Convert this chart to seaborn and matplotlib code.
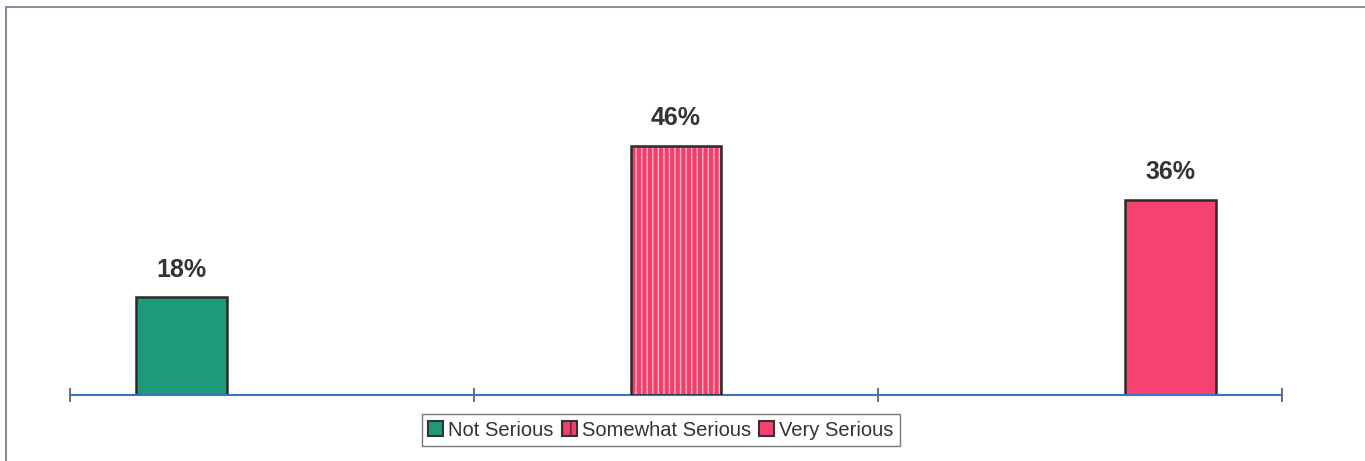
import matplotlib
matplotlib.use('Agg')
import matplotlib.pyplot as plt
import matplotlib.patches as mpatches
from matplotlib.lines import Line2D
import seaborn as sns
import pandas as pd

categories = ['g1', 'g2', 'g3']
series = ['Not Serious', 'Somewhat Serious', 'Very Serious']
values = [18, 46, 36]
labels = ['18%', '46%', '36%']
colors = ['#1f9a78', '#f23f6c', '#f5426e']

sns.set_theme(style='white')
plt.rcParams['font.family'] = ['Liberation Sans', 'DejaVu Sans']

df = pd.DataFrame({'cat': categories, 'series': series, 'value': values})

fig = plt.figure(figsize=(13.65, 4.61), dpi=100)
ax = fig.add_axes([70 / 1365, 66 / 461, 1212 / 1365, 298 / 461])

sns.barplot(data=df, x='cat', y='value', hue='series', hue_order=series,
            order=categories, palette=colors, width=0.675, dodge=True,
            edgecolor='#2b2b2b', linewidth=1.8, saturation=1, ax=ax,
            legend=False)

bars = [p for p in ax.patches if p.get_height() > 0]
bars.sort(key=lambda p: p.get_x())
# striped bar for "Somewhat Serious"
mid = bars[1]
mid.set_hatch('|||')
mid.set_edgecolor('#ffb3c6')
mid.set_linewidth(0)
ax.add_patch(mpatches.Rectangle(mid.get_xy(), mid.get_width(), mid.get_height(),
                                fill=False, edgecolor='#2b2b2b', lw=1.8, zorder=3))

for p, lab in zip(bars, labels):
    ax.text(p.get_x() + p.get_width() / 2, p.get_height() + 2.9, lab,
            ha='center', va='bottom', fontsize=18, fontweight='bold', color='#333333')

ax.set_xlim(-0.5, 2.5)
ax.set_ylim(0, 55)
ax.set_xticks([-0.5, 0.5, 1.5, 2.5])
ax.set_xticklabels([])
ax.set_yticks([])
ax.set_xlabel('')
ax.set_ylabel('')
for s in ['top', 'right', 'left']:
    ax.spines[s].set_visible(False)
ax.spines['bottom'].set_color('#3a72c4')
ax.spines['bottom'].set_linewidth(1.5)
ax.tick_params(axis='x', direction='inout', length=10, width=1.2, color='#555555',
               bottom=True)

handles = [mpatches.Patch(facecolor=c, edgecolor='#333333', linewidth=1.5) for c in colors]
handles[1].set_hatch('||')
leg = fig.legend(handles, series, loc='center', bbox_to_anchor=(661 / 1365, 1 - 430 / 461),
                 ncol=3, frameon=True, fontsize=14.5, handlelength=0.75, handleheight=0.75,
                 handletextpad=0.25, columnspacing=0.4, borderpad=0.3, fancybox=False)
leg.get_frame().set_edgecolor('#555555')
leg.get_frame().set_linewidth(1.0)
for t in leg.get_texts():
    t.set_color('#333333')

# outer chart border (left and top only visible)
fig.add_artist(Line2D([6 / 1365, 6 / 1365], [0, 1 - 7 / 461], color='#8a8fa0', lw=1.5))
fig.add_artist(Line2D([6 / 1365, 1], [1 - 7 / 461, 1 - 7 / 461], color='#8a8fa0', lw=1.5))

fig.savefig('out.png', dpi=100)
